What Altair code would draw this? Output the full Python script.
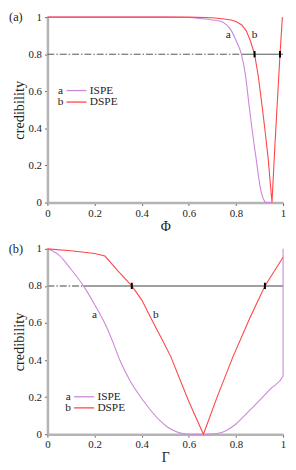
import altair as alt
import pandas as pd

FONT = "Liberation Serif"
PURPLE = "#cc88d8"
RED = "#ff4646"

# ---- Panel (a): credibility vs Phi ----
a_ispe_x = [0.0, 0.5, 0.6, 0.65, 0.70, 0.732, 0.76, 0.781, 0.80, 0.823, 0.84, 0.858, 0.872, 0.886, 0.897, 0.907, 0.917, 0.928, 0.94, 0.95]
a_ispe_y = [1.0, 1.0, 0.998, 0.992, 0.985, 0.979, 0.958, 0.926, 0.875, 0.80, 0.69, 0.50, 0.36, 0.234, 0.13, 0.057, 0.018, 0.0, 0.0, 0.0]
a_dspe_x = [0.0, 0.6, 0.7, 0.75, 0.78, 0.802, 0.825, 0.844, 0.862, 0.879, 0.895, 0.913, 0.926, 0.937, 0.946, 0.953, 0.965, 0.976, 0.987, 0.997]
a_dspe_y = [1.0, 1.0, 0.997, 0.99, 0.985, 0.975, 0.958, 0.926, 0.87, 0.80, 0.68, 0.50, 0.36, 0.234, 0.10, 0.0, 0.3, 0.55, 0.80, 1.0]
a_cross_dashed = 0.823
a_marks = [0.879, 0.987]

# ---- Panel (b): credibility vs Gamma ----
b_ispe_x = [0.0, 0.05, 0.1, 0.153, 0.2, 0.244, 0.28, 0.307, 0.35, 0.397, 0.439, 0.48, 0.509, 0.55, 0.58, 0.6, 0.667, 0.72, 0.76, 0.8, 0.858, 0.9, 0.95, 1.0, 1.0]
b_ispe_y = [1.0, 0.965, 0.89, 0.80, 0.70, 0.597, 0.49, 0.40, 0.29, 0.198, 0.128, 0.07, 0.039, 0.012, 0.002, 0.0, 0.0, 0.004, 0.02, 0.055, 0.128, 0.183, 0.248, 0.314, 1.0]
b_dspe_x = [0.0, 0.1, 0.2, 0.244, 0.3, 0.358, 0.4, 0.446, 0.485, 0.523, 0.6, 0.662, 0.72, 0.788, 0.86, 0.923, 1.0]
b_dspe_y = [1.0, 0.99, 0.975, 0.961, 0.88, 0.80, 0.725, 0.61, 0.515, 0.42, 0.176, 0.0, 0.2, 0.42, 0.63, 0.80, 0.955]
b_cross_dashed = 0.153
b_marks = [0.358, 0.923]

threshold = 0.8
series_names = ["ISPE", "DSPE"]
series_tags = ["a", "b"]
ticks = [0, 0.2, 0.4, 0.6, 0.8, 1]


def panel(ix, iy, dx, dy, dd_end, marks, curve_labels, leg, hl_color, hl_width, xtitle, tag):
    ispe = pd.DataFrame({"x": ix, "y": iy, "s": "ISPE", "o": list(range(len(ix)))})
    dspe = pd.DataFrame({"x": dx, "y": dy, "s": "DSPE", "o": list(range(len(dx)))})

    xsc = alt.Scale(domain=[0, 1], nice=False, zero=False)
    ysc = alt.Scale(domain=[0, 1], nice=False, zero=False)
    csc = alt.Scale(domain=series_names, range=[PURPLE, RED])

    xaxis = alt.Axis(values=ticks, format="~g", title=xtitle, grid=False,
                     domainColor="#b4b4b4", domainWidth=2.5, tickColor="#666", tickSize=3,
                     labelFont=FONT, labelFontSize=11, labelColor="#222", labelPadding=2,
                     titleFont=FONT, titleFontSize=14, titleFontWeight="normal", titleColor="#222",
                     titlePadding=1, labelFlush=False)
    yaxis = alt.Axis(values=ticks, format="~g", title="credibility", grid=False,
                     domainColor="#b4b4b4", domainWidth=2.5, tickColor="#666", tickSize=3,
                     labelFont=FONT, labelFontSize=11, labelColor="#222", labelPadding=3,
                     titleFont=FONT, titleFontSize=14.5, titleFontWeight="normal", titleColor="#222",
                     titlePadding=2, labelFlush=False)

    def X(f):
        return alt.X(f, scale=xsc, axis=xaxis)

    def Y(f):
        return alt.Y(f, scale=ysc, axis=yaxis)

    hl = pd.DataFrame({"x": [0, dd_end], "x2": [dd_end, 1], "y": [threshold, threshold], "k": ["dd", "solid"]})
    hl_dd = alt.Chart(hl[hl.k == "dd"]).mark_rule(color=hl_color, strokeWidth=hl_width, strokeDash=[7, 2, 1.5, 2]).encode(
        x=X("x:Q"), x2="x2:Q", y=Y("y:Q"))
    hl_s = alt.Chart(hl[hl.k == "solid"]).mark_rule(color=hl_color, strokeWidth=hl_width).encode(
        x=X("x:Q"), x2="x2:Q", y=Y("y:Q"))

    line_i = alt.Chart(ispe).mark_line(strokeWidth=1.1, interpolate="monotone").encode(
        x=X("x:Q"), y=Y("y:Q"), color=alt.Color("s:N", scale=csc, legend=None), order="o:Q")
    line_d = alt.Chart(dspe).mark_line(strokeWidth=1.1).encode(
        x=X("x:Q"), y=Y("y:Q"), color=alt.Color("s:N", scale=csc, legend=None), order="o:Q")

    mk = pd.DataFrame({"x": marks, "y": [threshold - 0.017] * len(marks), "y2": [threshold + 0.017] * len(marks)})
    mk_l = alt.Chart(mk).mark_rule(color="black", strokeWidth=2).encode(
        x=X("x:Q"), y=Y("y:Q"), y2="y2:Q")

    cl = pd.DataFrame({"x": [p[0] for p in curve_labels], "y": [p[1] for p in curve_labels], "t": series_tags})
    cl_t = alt.Chart(cl).mark_text(font=FONT, fontSize=11.5, color="#222").encode(
        x=X("x:Q"), y=Y("y:Q"), text="t:N")

    lx, ly, dy_ = leg
    lg = pd.DataFrame({"tag": series_tags, "name": series_names, "y": [ly, ly - dy_],
                       "tx": [lx, lx], "l1": [lx + 0.025, lx + 0.025], "l2": [lx + 0.11, lx + 0.11],
                       "nx": [lx + 0.124, lx + 0.124]})
    lg_tag = alt.Chart(lg).mark_text(font=FONT, fontSize=11.5, color="#222").encode(
        x=X("tx:Q"), y=Y("y:Q"), text="tag:N")
    lg_line = alt.Chart(lg).mark_rule(strokeWidth=1.3).encode(
        x=X("l1:Q"), x2="l2:Q", y=Y("y:Q"),
        color=alt.Color("name:N", scale=csc, legend=None))
    lg_name = alt.Chart(lg).mark_text(font=FONT, fontSize=11.5, color="#222", align="left").encode(
        x=X("nx:Q"), y=Y("y:Q"), text="name:N")

    tg = alt.Chart(pd.DataFrame({"t": [tag]})).mark_text(font=FONT, fontSize=12.5, color="#222").encode(
        text="t:N", x=alt.value(-32), y=alt.value(0))

    return alt.layer(hl_dd, hl_s, line_i, line_d, mk_l, cl_t, lg_tag, lg_line, lg_name, tg).properties(width=239, height=188)


pa = panel(a_ispe_x, a_ispe_y, a_dspe_x, a_dspe_y, a_cross_dashed, a_marks,
           [(0.767, 0.902), (0.879, 0.902)], (0.056, 0.604, 0.062), "#555555", 1.0, "Φ", "(a)")
pb = panel(b_ispe_x, b_ispe_y, b_dspe_x, b_dspe_y, b_cross_dashed, b_marks,
           [(0.2, 0.645), (0.46, 0.645)], (0.088, 0.202, 0.06), "#a0a0a0", 2.0, "Γ", "(b)")

chart = (alt.vconcat(pa, pb, spacing=10)
         .properties(padding={"left": 0, "top": 0, "right": 2, "bottom": 0})
         .configure_view(stroke=None)
         .configure_axis(labelFont=FONT, titleFont=FONT))
chart.save("out.html", embed_options={"renderer": "svg", "actions": False})
